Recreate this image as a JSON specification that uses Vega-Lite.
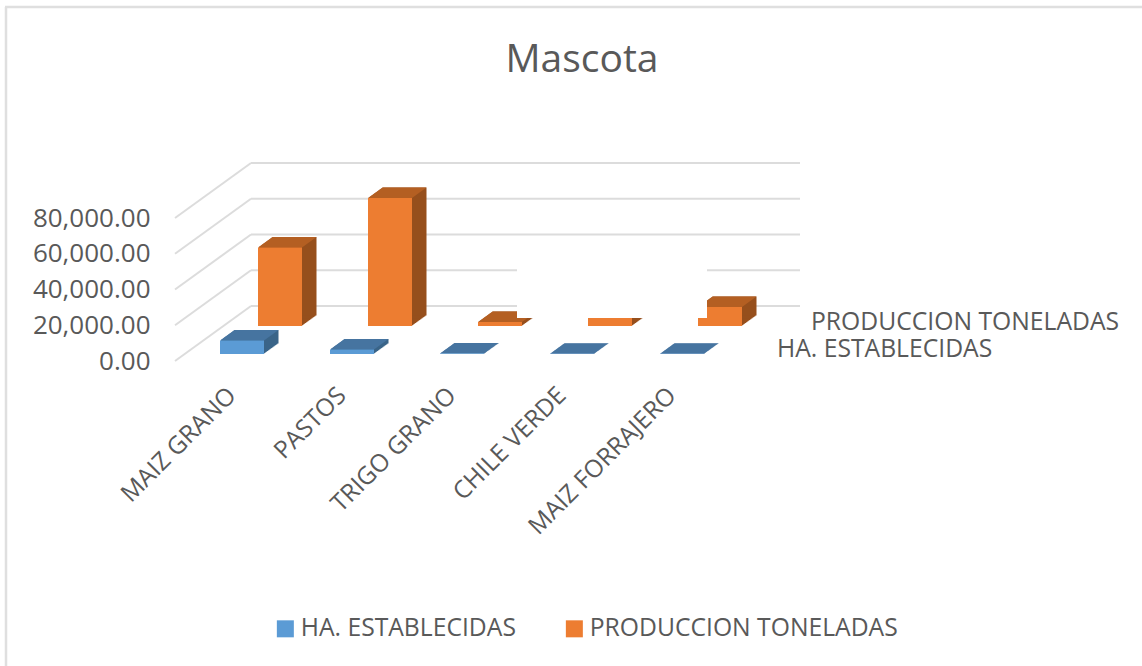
{
"$schema":"https://vega.github.io/schema/vega-lite/v6.json",
"width":550,"height":143,"autosize":"none",
"padding":{"left":175,"top":218,"right":417,"bottom":305},
"background":"white",
"view":{"stroke":null},
"config":{"axisY":{"title":null,"ticks":false,"domain":false,"grid":false,"format":",.2f","labelFont":"Open Sans","labelFontSize":26,"labelColor":"#595959","labelPadding":25,"labelOverlap":false,"tickCount":5,"values":[0,20000,40000,60000,80000]}},
"title":{"text":"Mascota","font":"Open Sans","fontSize":39,"fontWeight":"normal","color":"#595959","anchor":"middle","dx":132,"offset":0,"dy":74},
"datasets":{
"blue":[
{"crop":"MAIZ GRANO","serie":"HA. ESTABLECIDAS","value":7550},
{"crop":"PASTOS","serie":"HA. ESTABLECIDAS","value":2500},
{"crop":"TRIGO GRANO","serie":"HA. ESTABLECIDAS","value":300},
{"crop":"CHILE VERDE","serie":"HA. ESTABLECIDAS","value":200},
{"crop":"MAIZ FORRAJERO","serie":"HA. ESTABLECIDAS","value":200}],
"orange":[
{"crop":"MAIZ GRANO","serie":"PRODUCCION TONELADAS","value":43900},
{"crop":"PASTOS","serie":"PRODUCCION TONELADAS","value":71600},
{"crop":"TRIGO GRANO","serie":"PRODUCCION TONELADAS","value":2200},
{"crop":"CHILE VERDE","serie":"PRODUCCION TONELADAS","value":6000},
{"crop":"MAIZ FORRAJERO","serie":"PRODUCCION TONELADAS","value":10600}],
"levels":[{"level":0},{"level":20000},{"level":40000},{"level":60000},{"level":80000}]
},
"layer":[
{"data":{"values":[{}]},"mark":{"type":"rule","color":"#dfdfdf","strokeWidth":2.5},"encoding":{"x":{"value":-170},"x2":{"value":967},"y":{"value":-211}}},
{"data":{"values":[{}]},"mark":{"type":"rule","color":"#dfdfdf","strokeWidth":2.5},"encoding":{"x":{"value":-169},"y":{"value":-211},"y2":{"value":448}}},
{"data":{"name":"levels"},"mark":{"type":"rule","color":"#dcdcdc","strokeWidth":2,"yOffset":-55},
 "encoding":{"x":{"value":76},"x2":{"value":625},"y":{"field":"level","type":"quantitative","scale":{"domain":[0,80000],"nice":false},"axis":{"title":null,"format":",.2f","labelOverlap":false,"tickCount":5,"values":[0,20000,40000,60000,80000]}}}},
{"data":{"name":"levels"},"mark":{"type":"rule","color":"#dcdcdc","strokeWidth":2,"x2Offset":76,"y2Offset":-55},
 "encoding":{"x":{"value":0},"x2":{"value":0},"y":{"field":"level","type":"quantitative","axis":{"title":null,"format":",.2f","labelOverlap":false,"tickCount":5,"values":[0,20000,40000,60000,80000]}},"y2":{"field":"level"}}},
{"data":{"name":"orange"},
 "encoding":{"x":{"field":"crop","type":"nominal","sort":null,"scale":{"domain":["MAIZ GRANO","PASTOS","TRIGO GRANO","CHILE VERDE","MAIZ FORRAJERO"],"paddingInner":0,"paddingOuter":0},"axis":{"title":null,"ticks":false,"domain":false,"grid":false,"labelAngle":-45,"labelFont":"Open Sans","labelFontSize":24.5,"labelColor":"#595959","labelPadding":22,"labelOffset":-6,"labelLimit":0}},"y":{"field":"value","type":"quantitative","stack":null,"axis":{"title":null,"format":",.2f","labelOverlap":false,"tickCount":5,"values":[0,20000,40000,60000,80000]}},"y2":{"datum":0}},
 "layer":[
 {"mark":{"type":"bar","width":44,"color":"#964f1c","xOffset":51.04,"yOffset":-35.75,"y2Offset":-35.75}},
 {"mark":{"type":"bar","width":44,"color":"#964f1c","xOffset":52.07,"yOffset":-36.5,"y2Offset":-36.5}},
 {"mark":{"type":"bar","width":44,"color":"#964f1c","xOffset":53.11,"yOffset":-37.25,"y2Offset":-37.25}},
 {"mark":{"type":"bar","width":44,"color":"#964f1c","xOffset":54.14,"yOffset":-38,"y2Offset":-38}},
 {"mark":{"type":"bar","width":44,"color":"#964f1c","xOffset":55.18,"yOffset":-38.75,"y2Offset":-38.75}},
 {"mark":{"type":"bar","width":44,"color":"#964f1c","xOffset":56.21,"yOffset":-39.5,"y2Offset":-39.5}},
 {"mark":{"type":"bar","width":44,"color":"#964f1c","xOffset":57.25,"yOffset":-40.25,"y2Offset":-40.25}},
 {"mark":{"type":"bar","width":44,"color":"#964f1c","xOffset":58.29,"yOffset":-41,"y2Offset":-41}},
 {"mark":{"type":"bar","width":44,"color":"#964f1c","xOffset":59.32,"yOffset":-41.75,"y2Offset":-41.75}},
 {"mark":{"type":"bar","width":44,"color":"#964f1c","xOffset":60.36,"yOffset":-42.5,"y2Offset":-42.5}},
 {"mark":{"type":"bar","width":44,"color":"#964f1c","xOffset":61.39,"yOffset":-43.25,"y2Offset":-43.25}},
 {"mark":{"type":"bar","width":44,"color":"#964f1c","xOffset":62.43,"yOffset":-44,"y2Offset":-44}},
 {"mark":{"type":"bar","width":44,"color":"#964f1c","xOffset":63.46,"yOffset":-44.75,"y2Offset":-44.75}},
 {"mark":{"type":"bar","width":44,"color":"#964f1c","xOffset":64.5,"yOffset":-45.5,"y2Offset":-45.5}},
 {"mark":{"type":"point","filled":true,"opacity":1,"size":4,"strokeWidth":0,"color":"#b45f22","shape":"M0 0L44 0L58.5 -10.5L14.5 -10.5Z","xOffset":28,"yOffset":-35}},
 {"mark":{"type":"bar","width":44,"xOffset":50,"yOffset":-35,"y2Offset":-35},"encoding":{"color":{"field":"serie","type":"nominal","scale":{"domain":["HA. ESTABLECIDAS","PRODUCCION TONELADAS"],"range":["#5b9bd5","#ed7d31"]},"legend":{"orient":"none","legendX":98,"legendY":398,"direction":"horizontal","title":null,"symbolType":"square","symbolSize":289,"symbolStrokeWidth":0,"labelFont":"Open Sans","labelFontSize":24.7,"labelColor":"#595959","labelOffset":3,"labelLimit":0,"columnPadding":46,"columns":2}}}}
 ]},
{"data":{"values":[{}]},"mark":{"type":"rect","color":"white","xOffset":122,"x2Offset":92},
 "encoding":{"x":{"datum":"TRIGO GRANO","type":"nominal","bandPosition":0},"x2":{"datum":"MAIZ FORRAJERO","bandPosition":0},"y":{"datum":24056,"type":"quantitative"},"y2":{"datum":59300}}},
{"data":{"name":"blue"},
 "encoding":{"x":{"field":"crop","type":"nominal","sort":null},"y":{"field":"value","type":"quantitative","stack":null},"y2":{"datum":0}},
 "layer":[
 {"mark":{"type":"bar","width":44,"color":"#3a6488","xOffset":13.04,"yOffset":-7.75,"y2Offset":-7.75}},
 {"mark":{"type":"bar","width":44,"color":"#3a6488","xOffset":14.07,"yOffset":-8.5,"y2Offset":-8.5}},
 {"mark":{"type":"bar","width":44,"color":"#3a6488","xOffset":15.11,"yOffset":-9.25,"y2Offset":-9.25}},
 {"mark":{"type":"bar","width":44,"color":"#3a6488","xOffset":16.14,"yOffset":-10,"y2Offset":-10}},
 {"mark":{"type":"bar","width":44,"color":"#3a6488","xOffset":17.18,"yOffset":-10.75,"y2Offset":-10.75}},
 {"mark":{"type":"bar","width":44,"color":"#3a6488","xOffset":18.21,"yOffset":-11.5,"y2Offset":-11.5}},
 {"mark":{"type":"bar","width":44,"color":"#3a6488","xOffset":19.25,"yOffset":-12.25,"y2Offset":-12.25}},
 {"mark":{"type":"bar","width":44,"color":"#3a6488","xOffset":20.29,"yOffset":-13,"y2Offset":-13}},
 {"mark":{"type":"bar","width":44,"color":"#3a6488","xOffset":21.32,"yOffset":-13.75,"y2Offset":-13.75}},
 {"mark":{"type":"bar","width":44,"color":"#3a6488","xOffset":22.36,"yOffset":-14.5,"y2Offset":-14.5}},
 {"mark":{"type":"bar","width":44,"color":"#3a6488","xOffset":23.39,"yOffset":-15.25,"y2Offset":-15.25}},
 {"mark":{"type":"bar","width":44,"color":"#3a6488","xOffset":24.43,"yOffset":-16,"y2Offset":-16}},
 {"mark":{"type":"bar","width":44,"color":"#3a6488","xOffset":25.46,"yOffset":-16.75,"y2Offset":-16.75}},
 {"mark":{"type":"bar","width":44,"color":"#3a6488","xOffset":26.5,"yOffset":-17.5,"y2Offset":-17.5}},
 {"mark":{"type":"point","filled":true,"opacity":1,"size":4,"strokeWidth":0,"color":"#4674a0","shape":"M0 0L44 0L58.5 -10.5L14.5 -10.5Z","xOffset":-10,"yOffset":-7}},
 {"mark":{"type":"bar","width":44,"xOffset":12,"yOffset":-7,"y2Offset":-7},"encoding":{"color":{"field":"serie","type":"nominal"}}}
 ]},
{"data":{"values":[{"serie":"PRODUCCION TONELADAS"}]},"mark":{"type":"text","align":"left","baseline":"middle","font":"Open Sans","fontSize":24.7,"color":"#595959","xOffset":141,"yOffset":-38},
 "encoding":{"text":{"field":"serie"},"x":{"datum":"MAIZ FORRAJERO","type":"nominal"},"y":{"datum":0,"type":"quantitative"}}},
{"data":{"values":[{"serie":"HA. ESTABLECIDAS"}]},"mark":{"type":"text","align":"left","baseline":"middle","font":"Open Sans","fontSize":24.7,"color":"#595959","xOffset":107,"yOffset":-11},
 "encoding":{"text":{"field":"serie"},"x":{"datum":"MAIZ FORRAJERO","type":"nominal"},"y":{"datum":0,"type":"quantitative"}}}
]
}
